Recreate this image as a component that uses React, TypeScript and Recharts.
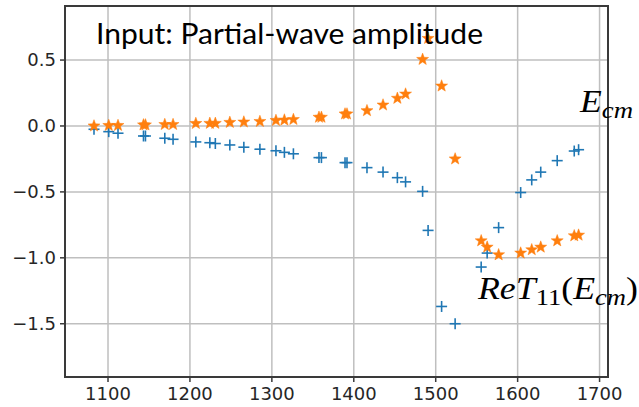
import React from 'react';
import { ScatterChart, Scatter, XAxis, YAxis, CartesianGrid } from 'recharts';

const energies = [
  1082.9, 1100.9, 1112.2, 1143.3, 1145.7, 1169.3, 1179.4, 1207.2, 1224.3, 1231.0,
  1248.7, 1265.8, 1285.4, 1305.0, 1315.3, 1326.3, 1357.5, 1360.5, 1389.3, 1391.7,
  1416.1, 1435.7, 1453.2, 1463.2, 1484.0, 1490.7, 1507.2, 1523.7, 1555.5, 1562.8,
  1576.8, 1603.7, 1617.2, 1628.2, 1648.3, 1669.1, 1674.4,
];

const blueValues = [
  -0.025, -0.043, -0.055, -0.076, -0.076, -0.093, -0.101, -0.121, -0.127, -0.133,
  -0.144, -0.161, -0.176, -0.188, -0.2, -0.211, -0.24, -0.24, -0.278, -0.278,
  -0.316, -0.35, -0.392, -0.424, -0.496, -0.792, -1.369, -1.5, -1.07, -0.964,
  -0.771, -0.505, -0.409, -0.35, -0.263, -0.19, -0.18,
];

const orangeValues = [
  0.0, 0.004, 0.004, 0.008, 0.008, 0.011, 0.011, 0.019, 0.02, 0.02,
  0.027, 0.03, 0.034, 0.042, 0.045, 0.049, 0.066, 0.066, 0.091, 0.091,
  0.116, 0.159, 0.21, 0.242, 0.505, 0.664, 0.303, -0.25, -0.871, -0.919,
  -0.977, -0.964, -0.939, -0.919, -0.871, -0.833, -0.828,
];

const xTicks = [1100, 1200, 1300, 1400, 1500, 1600, 1700];
const yTicks = [-1.5, -1.0, -0.5, 0.0, 0.5];
const xDomain = [1047.5, 1710.3];
const yDomain = [-1.904, 0.91];

const blueData = energies.map((e, i) => ({ x: e, y: blueValues[i] }));
const orangeData = energies.map((e, i) => ({ x: e, y: orangeValues[i] }));

const CHART_W = 639;
const CHART_H = 407;
const MARGIN = { top: 6, right: 31, bottom: 0, left: 0 };
const Y_AXIS_W = 65;
const X_AXIS_H = 30;
const PLOT_W = CHART_W - MARGIN.left - MARGIN.right - Y_AXIS_W;
const PLOT_H = CHART_H - MARGIN.top - MARGIN.bottom - X_AXIS_H;
const FRAME_W = 2;

const BLUE = '#1f77b4';
const ORANGE = '#ff7f0e';
const GRID = '#bfbfbf';
const FRAME = '#3a3a3a';

const PlusShape = (props: any) => {
  const { cx, cy } = props;
  const r = 5.5;
  return (
    <g>
      <line x1={cx - r} y1={cy} x2={cx + r} y2={cy} stroke={BLUE} strokeWidth={1.6} />
      <line x1={cx} y1={cy - r} x2={cx} y2={cy + r} stroke={BLUE} strokeWidth={1.6} />
    </g>
  );
};

const StarShape = (props: any) => {
  const { cx, cy } = props;
  const R = 6.3;
  const r = 2.6;
  const pts: string[] = [];
  for (let k = 0; k < 10; k++) {
    const rad = k % 2 === 0 ? R : r;
    const a = -Math.PI / 2 + (k * Math.PI) / 5;
    pts.push(`${cx + rad * Math.cos(a)},${cy + rad * Math.sin(a)}`);
  }
  return <polygon points={pts.join(' ')} fill={ORANGE} stroke={ORANGE} strokeWidth={0.5} />;
};

const fmtY = (v: number) => {
  const s = Math.abs(v).toFixed(1);
  return v < 0 ? `\u2212${s}` : s;
};

const Annotations = () => (
  <svg width={CHART_W} height={CHART_H} style={{ position: 'absolute', left: 0, top: 0, pointerEvents: 'none' }}>
    <text
      x={96}
      y={44}
      fontFamily="Lato, 'Open Sans', sans-serif"
      fontSize={28}
      fill="#000"
      textLength={387}
      lengthAdjust="spacingAndGlyphs"
    >
      Input: Partial-wave amplitude
    </text>
    <text
      x={580}
      y={112}
      fontFamily="'Liberation Serif', serif"
      fontStyle="italic"
      fontSize={32}
      fill="#000"
      textLength={53}
      lengthAdjust="spacingAndGlyphs"
    >
      <tspan>E</tspan>
      <tspan fontSize={24} dy={6}>cm</tspan>
    </text>
    <text
      x={478}
      y={299}
      fontFamily="'Liberation Serif', serif"
      fontStyle="italic"
      fontSize={31}
      fill="#000"
      textLength={160}
      lengthAdjust="spacingAndGlyphs"
    >
      <tspan>ReT</tspan>
      <tspan fontStyle="normal" fontSize={23} dy={6}>11</tspan>
      <tspan fontStyle="normal" fontSize={31} dy={-6}>(</tspan>
      <tspan>E</tspan>
      <tspan fontSize={23} dy={6}>cm</tspan>
      <tspan fontStyle="normal" fontSize={31} dy={-6}>)</tspan>
    </text>
  </svg>
);

export default function App() {
  const tickStyle = { fontFamily: "'DejaVu Sans', sans-serif", fontSize: 18, fill: '#262626' };
  return (
    <div style={{ position: 'absolute', left: 0, top: 0, width: CHART_W, height: CHART_H, background: '#fff' }}>
      <ScatterChart width={CHART_W} height={CHART_H} margin={MARGIN}>
        <CartesianGrid stroke={GRID} strokeWidth={1.5} />
        <XAxis
          type="number"
          dataKey="x"
          domain={xDomain}
          ticks={xTicks}
          height={X_AXIS_H}
          tickSize={5}
          tickMargin={5}
          tick={tickStyle}
          axisLine={false}
          tickLine={{ stroke: FRAME, strokeWidth: 1.5 }}
        />
        <YAxis
          type="number"
          dataKey="y"
          domain={yDomain}
          ticks={yTicks}
          width={Y_AXIS_W}
          tickSize={5}
          tickMargin={4}
          tickFormatter={fmtY}
          tick={tickStyle}
          axisLine={false}
          tickLine={{ stroke: FRAME, strokeWidth: 1.5 }}
        />
        <Scatter data={blueData} shape={PlusShape} isAnimationActive={false} />
        <Scatter data={orangeData} shape={StarShape} isAnimationActive={false} />
      </ScatterChart>
      <div
        style={{
          position: 'absolute',
          left: MARGIN.left + Y_AXIS_W - FRAME_W / 2,
          top: MARGIN.top - FRAME_W / 2,
          width: PLOT_W + FRAME_W,
          height: PLOT_H + FRAME_W,
          boxSizing: 'border-box',
          border: `${FRAME_W}px solid ${FRAME}`,
          pointerEvents: 'none',
        }}
      />
      <Annotations />
    </div>
  );
}
